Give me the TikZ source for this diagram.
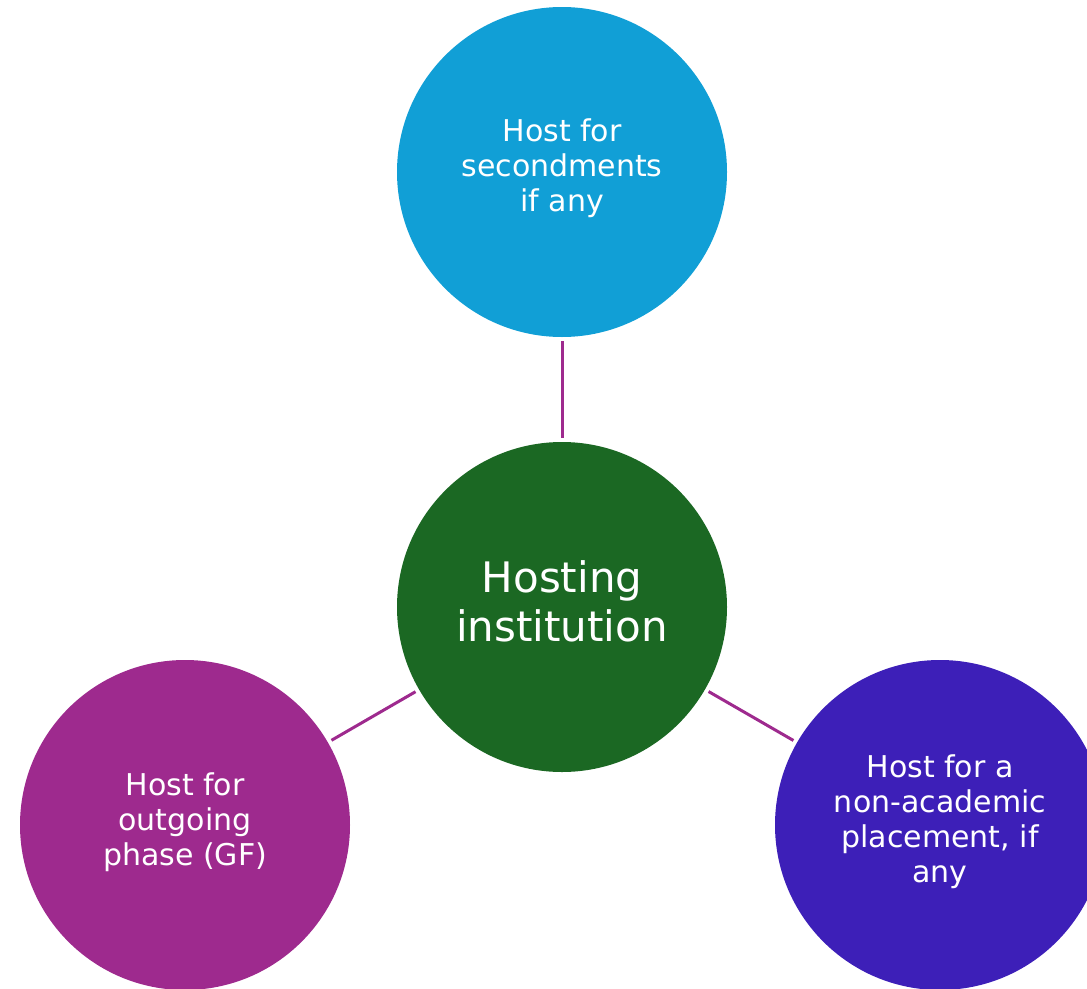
\documentclass[tikz,border=0pt]{standalone}
\usepackage{fontspec}
\setmainfont{DejaVu Sans}
\definecolor{cblue}{HTML}{119FD6}
\definecolor{cgreen}{HTML}{1B6823}
\definecolor{cpurple}{HTML}{9E2A8E}
\definecolor{cviolet}{HTML}{3D1FB8}
\tikzset{
  bubble/.style={circle, minimum size=330pt, inner sep=0pt},
  bubbletext/.style={text=white, align=center, font=\fontsize{30}{35}\selectfont},
  link/.style={draw=cpurple, line width=3pt, shorten >=4pt, shorten <=4pt}
}
\begin{document}
\begin{tikzpicture}[x=1pt,y=-1pt]
\useasboundingbox (0,0) rectangle (1087,988);
\clip (0,0) rectangle (1087,988);
\node[bubble, fill=cblue] (top) at (562,172) {};
\node[bubble, fill=cgreen] (mid) at (562,607) {};
\node[bubble, fill=cpurple] (left) at (185,825) {};
\node[bubble, fill=cviolet] (right) at (940,825) {};
\node[bubbletext] (toptext) at (562,168) {Host for\\secondments\\if any};
\node[bubbletext, font=\fontsize{42}{49}\selectfont] (midtext) at (562,601) {Hosting\\institution};
\node[bubbletext] (lefttext) at (185,822) {Host for\\outgoing\\phase (GF)};
\node[bubbletext] (righttext) at (940,822) {Host for a\\non-academic\\placement, if\\any};
\draw[link] (top) -- (mid);
\draw[link] (mid) -- (left);
\draw[link] (mid) -- (right);
\end{tikzpicture}
\end{document}
